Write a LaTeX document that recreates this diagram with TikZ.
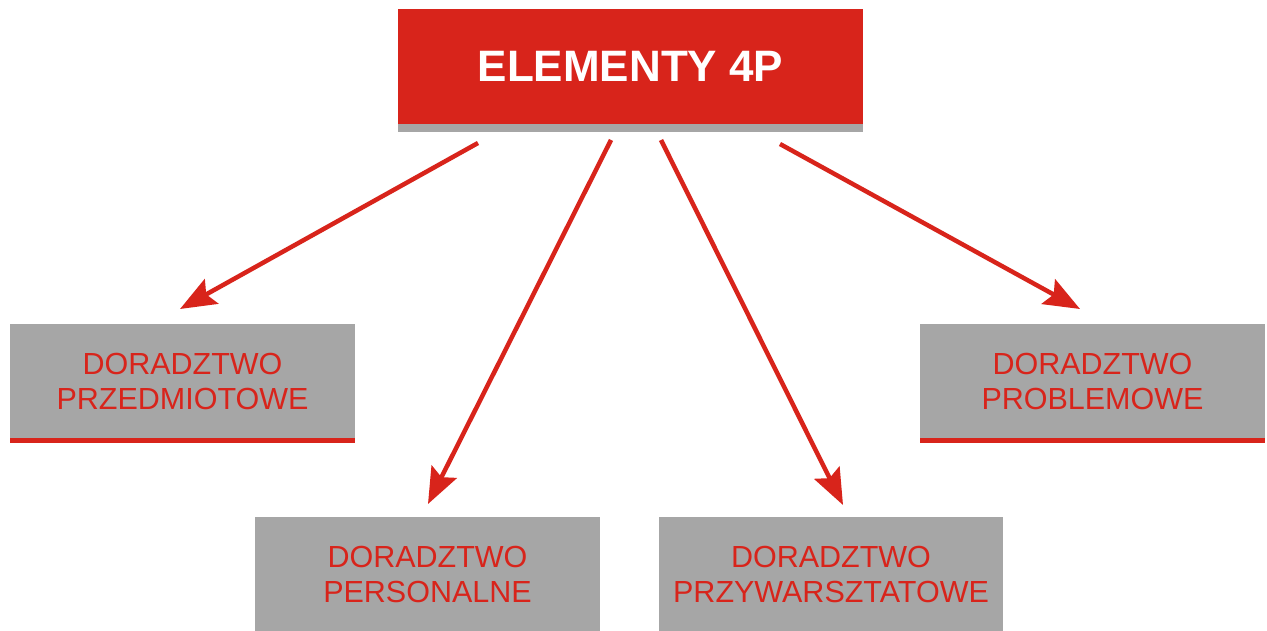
\documentclass[tikz,border=0pt]{standalone}
\usepackage{fontspec}
\setmainfont{Liberation Sans}
\usetikzlibrary{arrows.meta}
\definecolor{cred}{HTML}{D8241B}
\definecolor{cgrey}{HTML}{A6A6A6}
\begin{document}
\begin{tikzpicture}[x=1pt,y=-1pt,
  titlebox/.style={fill=cred,draw=none,inner sep=0pt,minimum width=465pt,minimum height=115pt,text=white,font=\fontsize{44}{48}\selectfont\bfseries},
  greybox/.style={fill=cgrey,draw=none,inner sep=0pt,minimum width=345pt,minimum height=114pt,text=cred,align=center,font=\fontsize{30.5}{35}\selectfont},
  arr/.style={draw=cred,line width=4.5pt,-{Stealth[length=36pt,width=28pt,inset=6pt]}}]
\useasboundingbox (0,0) rectangle (1267,631);
\fill[white] (0,0) rectangle (1267,631);
% title
\node[titlebox] (top) at (630.5,66.5) {ELEMENTY 4P};
\fill[cgrey] (top.south west) rectangle ([yshift=-8pt]top.south east);
% boxes
\node[greybox] (pm) at (182.5,381) {DORADZTWO\\PRZEDMIOTOWE};
\fill[cred] (pm.south west) rectangle ([yshift=-5pt]pm.south east);
\node[greybox] (pb) at (1092.5,381) {DORADZTWO\\PROBLEMOWE};
\fill[cred] (pb.south west) rectangle ([yshift=-5pt]pb.south east);
\node[greybox] (ps) at (427.5,574) {DORADZTWO\\PERSONALNE};
\node[greybox,minimum width=344pt] (pw) at (831,574) {DORADZTWO\\PRZYWARSZTATOWE};
% arrow end points
\coordinate (s1) at (478,143);
\coordinate (e1) at (180,309);
\coordinate (s2) at (611,140);
\coordinate (e2) at (428,504);
\coordinate (s3) at (661,140);
\coordinate (e3) at (843,505);
\coordinate (s4) at (780,144);
\coordinate (e4) at (1080,309);
\draw[arr] (s1) -- (e1);
\draw[arr] (s2) -- (e2);
\draw[arr] (s3) -- (e3);
\draw[arr] (s4) -- (e4);
\end{tikzpicture}
\end{document}
